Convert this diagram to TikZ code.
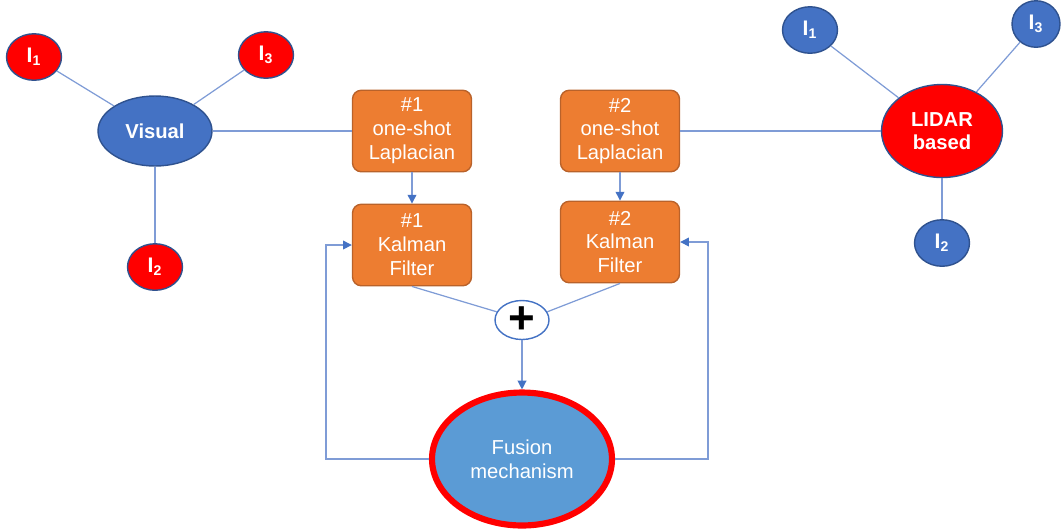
\documentclass[tikz,border=0pt]{standalone}
\usepackage{fontspec}
\setmainfont{Liberation Sans}
\usetikzlibrary{shapes.geometric,arrows.meta}
\definecolor{boxorange}{HTML}{ED7D31}
\definecolor{boxedge}{HTML}{B9622A}
\definecolor{darkblue}{HTML}{4472C4}
\definecolor{rimblue}{HTML}{2F528F}
\definecolor{lightblue}{HTML}{5B9BD5}
\definecolor{wireblue}{HTML}{7F9CD6}
\definecolor{tipblue}{HTML}{4472C4}

\begin{document}
\begin{tikzpicture}[x=0.02cm,y=-0.02cm,
		wire/.style={draw=wireblue,line width=0.7pt},
		arr/.style={wire,-{Triangle[length=5pt,width=5pt,color=tipblue]}},
		stepbox/.style={rectangle,rounded corners=5pt,draw=boxedge,line width=0.8pt,fill=boxorange,text=white,
			minimum width=2.38cm,minimum height=1.63cm,align=center,inner sep=0pt,
			font=\fontsize{11.5}{13.6}\selectfont},
		sensor/.style={ellipse,draw=rimblue,line width=0.8pt,text=white,inner sep=0pt,align=center,
			font=\fontsize{11.5}{13.4}\selectfont\bfseries},
		index/.style={ellipse,draw=rimblue,line width=0.8pt,text=white,inner sep=0pt,
			minimum width=1.1cm,minimum height=0.93cm,font=\fontsize{12}{12}\selectfont\bfseries}]
		\useasboundingbox (0,0) rectangle (1061,529);
		% camera side
		\node [sensor,fill=darkblue,minimum width=2.28cm,minimum height=1.4cm] (vis) at (155,131) {Visual};
		\node [index,fill=red] (vi1) at (34,57) {I\textsubscript{1}};
		\node [index,fill=red] (vi3) at (266,55) {I\textsubscript{3}};
		\node [index,fill=red] (vi2) at (155,267) {I\textsubscript{2}};
		% lidar side
		\node [sensor,fill=red,minimum width=2.42cm,minimum height=1.86cm] (lid) at (942,131) {LIDAR\\based};
		\node [index,fill=darkblue] (li1) at (810,30) {I\textsubscript{1}};
		\node [index,fill=darkblue,minimum width=0.96cm] (li3) at (1036,24) {I\textsubscript{3}};
		\node [index,fill=darkblue] (li2) at (942,243) {I\textsubscript{2}};
		% filter chain
		\node [stepbox] (lapa) at (412,131) {\#1\\one-shot\\Laplacian};
		\node [stepbox] (kala) at (412,245) {\#1\\Kalman\\Filter};
		\node [stepbox] (lapb) at (620,131) {\#2\\one-shot\\Laplacian};
		\node [stepbox] (kalb) at (620,242) {\#2\\Kalman\\Filter};
		\node [ellipse,draw=darkblue,line width=0.8pt,fill=white,minimum width=1.08cm,minimum height=0.78cm,inner sep=0pt,
			font=\fontsize{26}{26}\selectfont\bfseries] (plus) at (522,320) {+};
		\node [ellipse,draw=red,line width=3.5pt,fill=lightblue,text=white,align=center,inner sep=0pt,
			minimum width=3.6cm,minimum height=2.66cm,font=\fontsize{11.5}{13.6}\selectfont] (fus) at (522,459) {Fusion\\mechanism};
		% connectors
		\draw [wire] (vis) -- (vi1);
		\draw [wire] (vis) -- (vi3);
		\draw [wire] (vis) -- (vi2);
		\draw [wire] (lid) -- (li1);
		\draw [wire] (lid) -- (li3);
		\draw [wire] (lid) -- (li2);
		\draw [wire] (vis.east) -- (lapa.west);
		\draw [wire] (lapb.east) -- (lid.west);
		\draw [arr] (lapa.south) -- (kala.north);
		\draw [arr] (lapb.south) -- (kalb.north);
		\draw [wire] (kala.south) -- (plus.162);
		\draw [wire] (kalb.south) -- (plus.18);
		\draw [arr] (plus.south) -- (fus.north);
		\draw [arr] (fus.west) -- ++(-103,0) |- (kala.west);
		\draw [arr] (fus.east) -- ++(93,0) |- (kalb.east);
\end{tikzpicture}
\end{document}
